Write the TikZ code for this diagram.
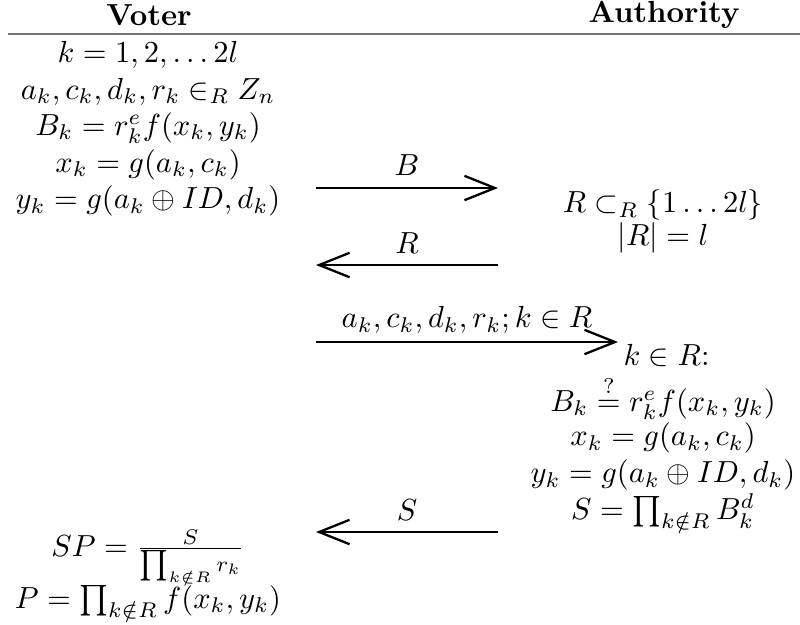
\documentclass[tikz,border=0pt]{standalone}
\usetikzlibrary{arrows.meta}
\begin{document}
\begin{tikzpicture}[x=0.328pt,y=-0.328pt,
  txt/.style={inner sep=0pt,font=\fontsize{10}{12}\selectfont},
  head/.style={txt,font=\fontsize{10}{12}\selectfont\bfseries},
  msg/.style={line width=0.75pt,-{Straight Barb[length=10pt,width=8pt,line width=0.75pt]}},
  rulec/.style={line width=0.7pt,draw=black!55}]
\useasboundingbox (0,0) rectangle (800,624);
% headers
\node[head] (hv) at (149,15) {Voter};
\node[head] (ha) at (664,15) {Authority};
\coordinate (rl) at (8,34);
\coordinate (rr) at (800,34);
\draw[rulec] (rl) -- (rr);
% voter column
\node[txt] (v1) at (148,55) {$k=1,2,\ldots 2l$};
\node[txt] (v2) at (148,91.5) {$a_k,c_k,d_k,r_k\in_R Z_n$};
\node[txt] (v3) at (148,128) {$B_k=r_k^e f(x_k,y_k)$};
\node[txt] (v4) at (148,164.5) {$x_k=g(a_k,c_k)$};
\node[txt] (v5) at (148,201) {$y_k=g(a_k\oplus ID,d_k)$};
\node[txt] (v6) at (148,557) {$SP=\frac{S}{\prod_{k\notin R} r_k}$};
\node[txt] (v7) at (148,602) {$P=\prod_{k\notin R} f(x_k,y_k)$};
% authority column
\node[txt] (a1) at (663,205) {$R\subset_R \{1\ldots 2l\}$};
\node[txt] (a2) at (663,238) {$|R|=l$};
\node[txt,anchor=west] (a3) at (623,355) {$k\in R$:};
\node[txt] (a4) at (663,398) {$B_k\stackrel{?}{=} r_k^e f(x_k,y_k)$};
\node[txt] (a5) at (663,438) {$x_k=g(a_k,c_k)$};
\node[txt] (a6) at (663,475) {$y_k=g(a_k\oplus ID,d_k)$};
\node[txt] (a7) at (663,512) {$S=\prod_{k\notin R} B_k^d$};
% messages
\coordinate (b1) at (316,188); \coordinate (b2) at (498,188);
\draw[msg] (b1) -- (b2);
\node[txt] (lb) at (407,165) {$B$};
\coordinate (r1) at (498,265); \coordinate (r2) at (316,265);
\draw[msg] (r1) -- (r2);
\node[txt] (lr) at (407,243) {$R$};
\coordinate (c1) at (316,342); \coordinate (c2) at (618,342);
\draw[msg] (c1) -- (c2);
\node[txt] (lc) at (467,320) {$a_k,c_k,d_k,r_k;k\in R$};
\coordinate (s1) at (498,532); \coordinate (s2) at (316,532);
\draw[msg] (s1) -- (s2);
\node[txt] (ls) at (407,510) {$S$};
\end{tikzpicture}
\end{document}
